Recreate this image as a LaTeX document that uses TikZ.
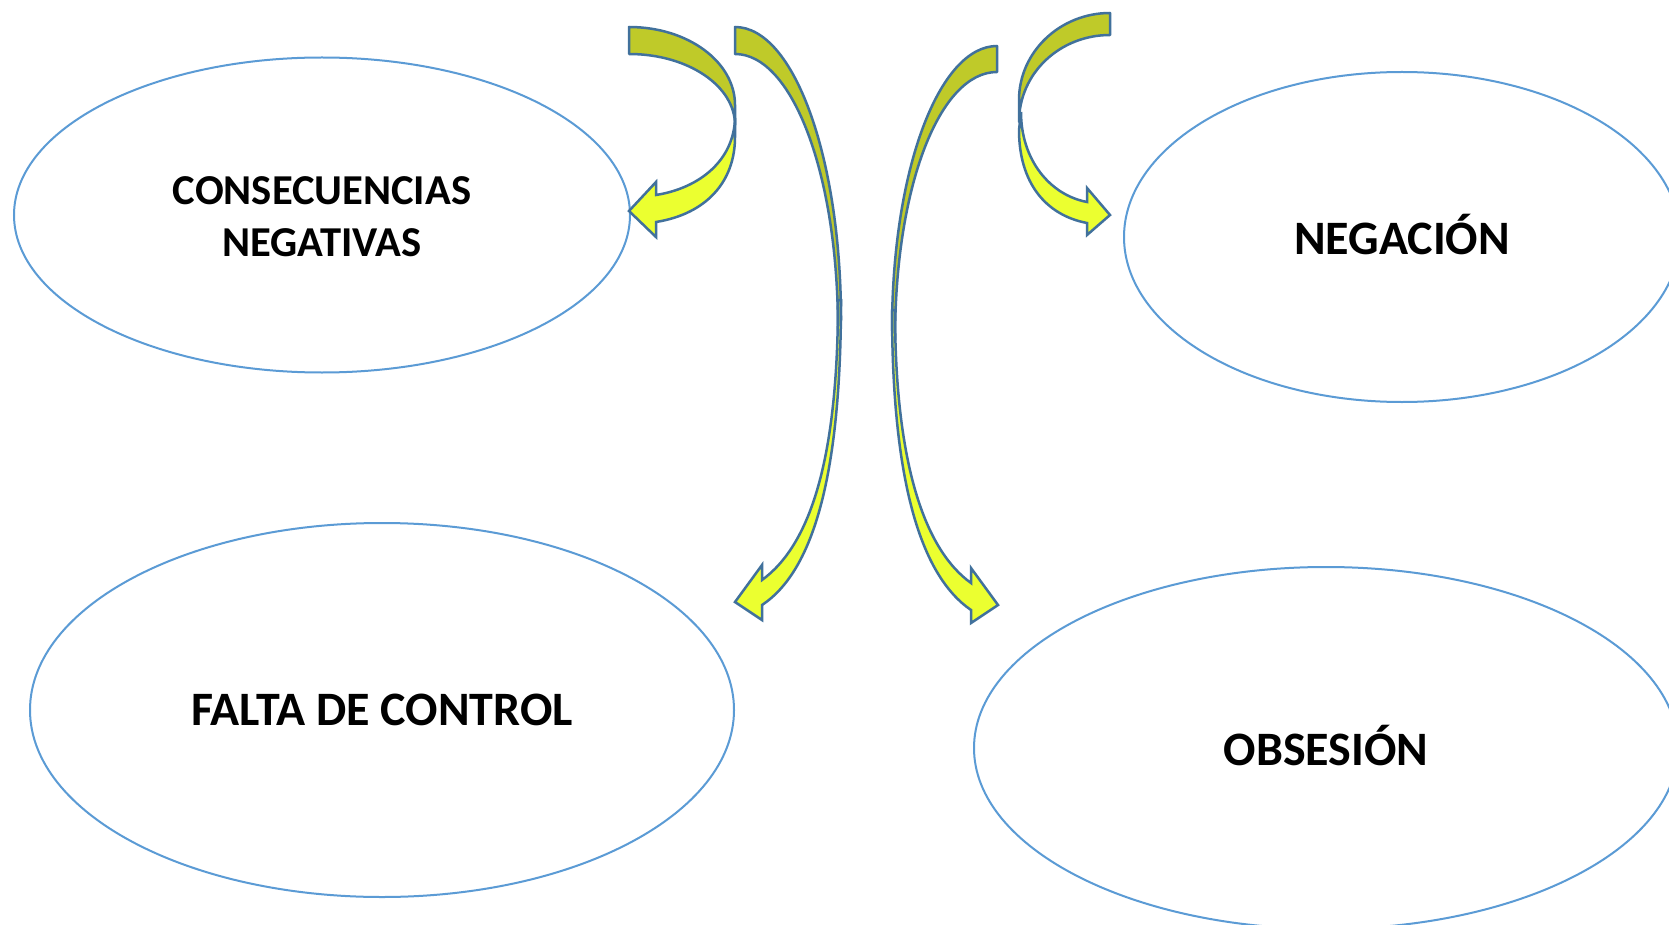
\documentclass[tikz,border=0pt]{standalone}
\usepackage{fontspec}
\setmainfont{Carlito}
\usetikzlibrary{shapes.geometric}
\definecolor{olivebk}{HTML}{BFCA29}
\definecolor{yelfr}{HTML}{EBFF30}
\definecolor{arrline}{HTML}{41719C}
\definecolor{ellline}{HTML}{5B9BD5}
\tikzset{
  bubble/.style={ellipse, draw=ellline, line width=2pt, inner sep=0pt, align=center, font=\bfseries\fontsize{48}{52}\selectfont},
  backpart/.style={fill=olivebk, draw=arrline, line width=2.5pt, line join=round},
  frontpart/.style={fill=yelfr, draw=arrline, line width=2.5pt, line join=miter},
}
\begin{document}
\begin{tikzpicture}[x=1pt,y=-1pt]
\useasboundingbox (0,0) rectangle (1669,925);
\clip (0,0) rectangle (1669,925);
\fill[white] (0,0) rectangle (1669,925);

% ellipses
\node[bubble, minimum width=616pt, minimum height=315pt] (cons) at (322,215) {};
\node[font=\bfseries\fontsize{42.6}{52}\selectfont, align=center] (constext) at (322,217) {CONSECUENCIAS\\NEGATIVAS};
\node[bubble, minimum width=556pt, minimum height=330pt] (neg) at (1402,237) {};
\node[font=\bfseries\fontsize{48}{52}\selectfont] (negtext) at (1402,235) {NEGACIÓN};
\node[bubble, minimum width=704pt, minimum height=374pt] (falta) at (382,710) {};
\node[font=\bfseries\fontsize{48}{52}\selectfont] (faltatext) at (382,710) {FALTA DE CONTROL};
\node[bubble, minimum width=704pt, minimum height=362pt] (obs) at (1326,748) {};
\node[font=\bfseries\fontsize{48}{52}\selectfont] (obstext) at (1326,745) {OBSESIÓN};

% arrow 1: curved left arrow into CONSECUENCIAS
\draw[backpart] (629,27) .. controls (688,27) and (735,62) .. (735,105)
  -- (735,125) .. controls (735,86) and (688,54) .. (629,54) -- cycle;
\draw[frontpart] (735,118) .. controls (734,160) and (700,188) .. (656,195)
  -- (656,182) -- (629,211) -- (656,237) -- (656,222)
  .. controls (706,214) and (735,182) .. (735,137) -- cycle;

% arrow 2: long arrow down to FALTA DE CONTROL
\draw[backpart] (735,27) .. controls (794,27) and (841,158) .. (841,320)
  -- (838,330) .. controls (838,173) and (792,54) .. (735,54) -- cycle;
\draw[frontpart] (838,300) .. controls (838,460) and (810,545) .. (762,580)
  -- (762,565) -- (735,602) -- (762,620) -- (762,605)
  .. controls (815,570) and (841,470) .. (841,300) -- cycle;

% arrow 3: long arrow down to OBSESION
\draw[backpart] (997,46) .. controls (939,46) and (892,170) .. (892,330)
  -- (895,340) .. controls (895,185) and (940,72) .. (997,72) -- cycle;
\draw[frontpart] (895,310) .. controls (895,465) and (925,550) .. (971,583)
  -- (971,568) -- (998,605) -- (971,623) -- (971,610)
  .. controls (920,575) and (892,480) .. (892,310) -- cycle;

% arrow 4: curved right arrow into NEGACION
\draw[backpart] (1110,13) .. controls (1060,13) and (1019,52) .. (1019,100)
  -- (1019,122) .. controls (1019,73) and (1060,35) .. (1110,35) -- cycle;
\draw[frontpart] (1021,112) .. controls (1021,160) and (1050,195) .. (1087,202)
  -- (1087,188) -- (1110,215) -- (1087,235) -- (1087,223)
  .. controls (1045,215) and (1019,182) .. (1019,130) -- cycle;
\end{tikzpicture}
\end{document}
